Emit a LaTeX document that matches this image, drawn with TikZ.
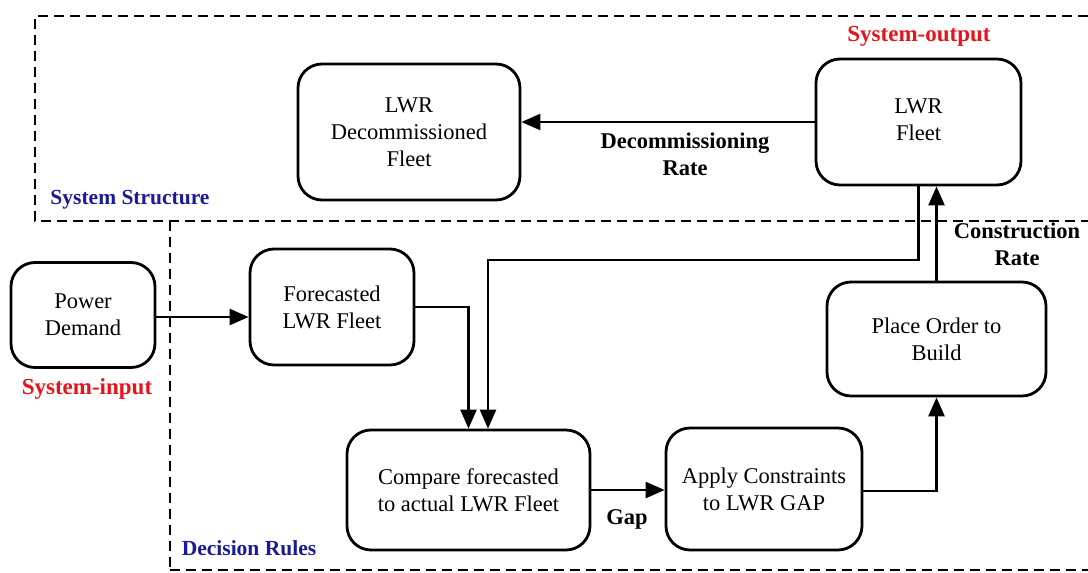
\documentclass[tikz,border=0pt]{standalone}
\usepackage{fontspec}
\setmainfont{Liberation Serif}
\usetikzlibrary{arrows.meta}
\definecolor{outred}{HTML}{E8141C}
\definecolor{regblue}{HTML}{1A1A99}
\tikzset{
  box/.style={draw, line width=2.8pt, rounded corners=24pt, align=center,
    font=\fontsize{22.5}{27}\selectfont, inner sep=0pt},
  arr/.style={line width=2.6pt, -{Triangle[length=19pt,width=16pt]}},
  frame/.style={line width=2.8pt, dash pattern=on 10pt off 6pt},
  flowlbl/.style={font=\fontsize{22.5}{27}\selectfont\bfseries, align=center},
  regionlbl/.style={font=\fontsize{21.5}{25}\selectfont\bfseries, text=regblue},
  iolbl/.style={font=\fontsize{23}{27}\selectfont\bfseries, text=outred}
}
\begin{document}
\begin{tikzpicture}[x=1pt, y=-1pt]
\useasboundingbox (0,0) rectangle (1088,573);

% region borders
\draw[frame] (1088,16) -- (35,16) -- (35,221) -- (1088,221);
\draw[frame] (170,221) -- (170,573);
\draw[frame] (170,570) -- (1088,570);

% stocks and decision steps
\node[box, minimum width=144pt, minimum height=105pt] (pd) at (83,315) {Power\\Demand};
\node[box, minimum width=164pt, minimum height=116pt] (fc) at (332,307) {Forecasted\\LWR Fleet};
\node[box, minimum width=222pt, minimum height=136pt] (dec) at (409,132) {LWR\\Decommissioned\\Fleet};
\node[box, minimum width=205pt, minimum height=126pt] (fleet) at (918.5,122) {\raisebox{5pt}{\begin{tabular}{@{}c@{}}LWR\\Fleet\end{tabular}}};
\node[box, minimum width=219pt, minimum height=114pt] (po) at (936.5,339) {Place Order to\\Build};
\node[box, minimum width=243pt, minimum height=120pt] (cmp) at (468.5,490) {Compare forecasted\\to actual LWR Fleet};
\node[box, minimum width=196pt, minimum height=122pt] (ap) at (764,489) {Apply Constraints\\to LWR GAP};

% flows
\draw[arr] (fleet.west) -- (fleet.west -| dec.east);
\coordinate (fb) at (488,260);
\draw[arr] (fleet.south) |- (fb) -- (fb |- cmp.north);
\draw[arr] (fc.east) -| (cmp.north);
\draw[arr] ([yshift=-2pt]pd.east) -- ([yshift=-2pt]pd.east -| fc.west);
\draw[arr] (cmp.east) -- (cmp.east -| ap.west);
\draw[arr] ([yshift=-2pt]ap.east) -| (po.south);
\draw[arr] (po.north) -- (po.north |- fleet.south);

% flow labels
\node[flowlbl] (ldec) at (685,154) {Decommissioning\\Rate};
\node[flowlbl] (lcon) at (1017,244) {Construction\\Rate};
\node[flowlbl] (lgap) at (627,519) {Gap};

% region and boundary labels
\node[iolbl] (lout) at (919,36) {System-output};
\node[iolbl] (lin) at (87,389) {System-input};
\node[regionlbl] (lss) at (130,200) {System Structure};
\node[regionlbl] (ldr) at (249,548) {Decision Rules};
\end{tikzpicture}
\end{document}
